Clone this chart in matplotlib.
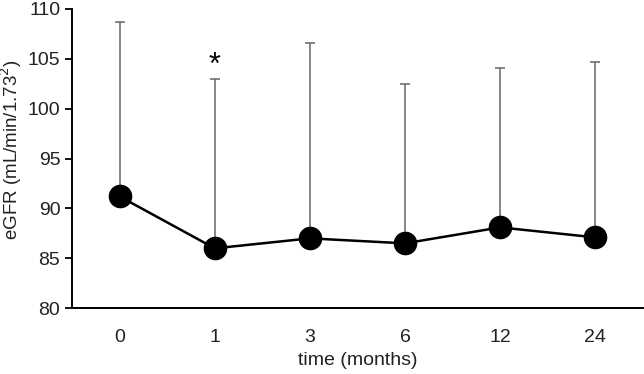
import numpy as np
import matplotlib.pyplot as plt

plt.rcParams["font.family"] = ["Liberation Sans", "DejaVu Sans"]

months = ["0", "1", "3", "6", "12", "24"]
egfr_mean = [91.2, 86.0, 87.0, 86.5, 88.1, 87.1]
egfr_sd = [17.5, 17.0, 19.6, 16.0, 16.0, 17.6]
significant = [False, True, False, False, False, False]

fig = plt.figure(figsize=(6.44, 3.74), dpi=100)
ax = fig.add_axes([0.112, 0.176, 0.886, 0.8])

x = np.arange(len(months))
ax.errorbar(x, egfr_mean, yerr=[np.zeros(len(egfr_sd)), egfr_sd], fmt="none",
            ecolor="#666666", elinewidth=1.1, capsize=3.5, capthick=1.1, zorder=1)
ax.plot(x, egfr_mean, color="black", lw=1.8, marker="o", markersize=16,
        markerfacecolor="black", zorder=3)

# significance marker sits just above the error bar
for xi, m, s, sig in zip(x, egfr_mean, egfr_sd, significant):
    if sig:
        ax.text(xi, m + s + 1.3, "*", ha="center", va="center", fontsize=22)

ax.set_xlim(-0.5, len(months) - 0.5)
ax.set_ylim(80, 110)
ax.set_yticks(np.arange(80, 111, 5))
ax.set_xticks(x)
ax.set_xticklabels(months)
ax.tick_params(axis="x", length=0, pad=15, labelsize=14, labelcolor="#222222")
ax.tick_params(axis="y", length=5, width=1.3, labelsize=14, labelcolor="#222222")
for side in ["top", "right"]:
    ax.spines[side].set_visible(False)
for side in ["left", "bottom"]:
    ax.spines[side].set_linewidth(1.4)

ax.set_xlabel("time (months)", fontsize=14, labelpad=4, color="#222222")
ax.set_ylabel("eGFR (mL/min/1.73$^2$)", fontsize=13.5, color="#222222")
ax.yaxis.set_label_coords(-0.084, 0.53)

fig.savefig("out.png", dpi=100)
